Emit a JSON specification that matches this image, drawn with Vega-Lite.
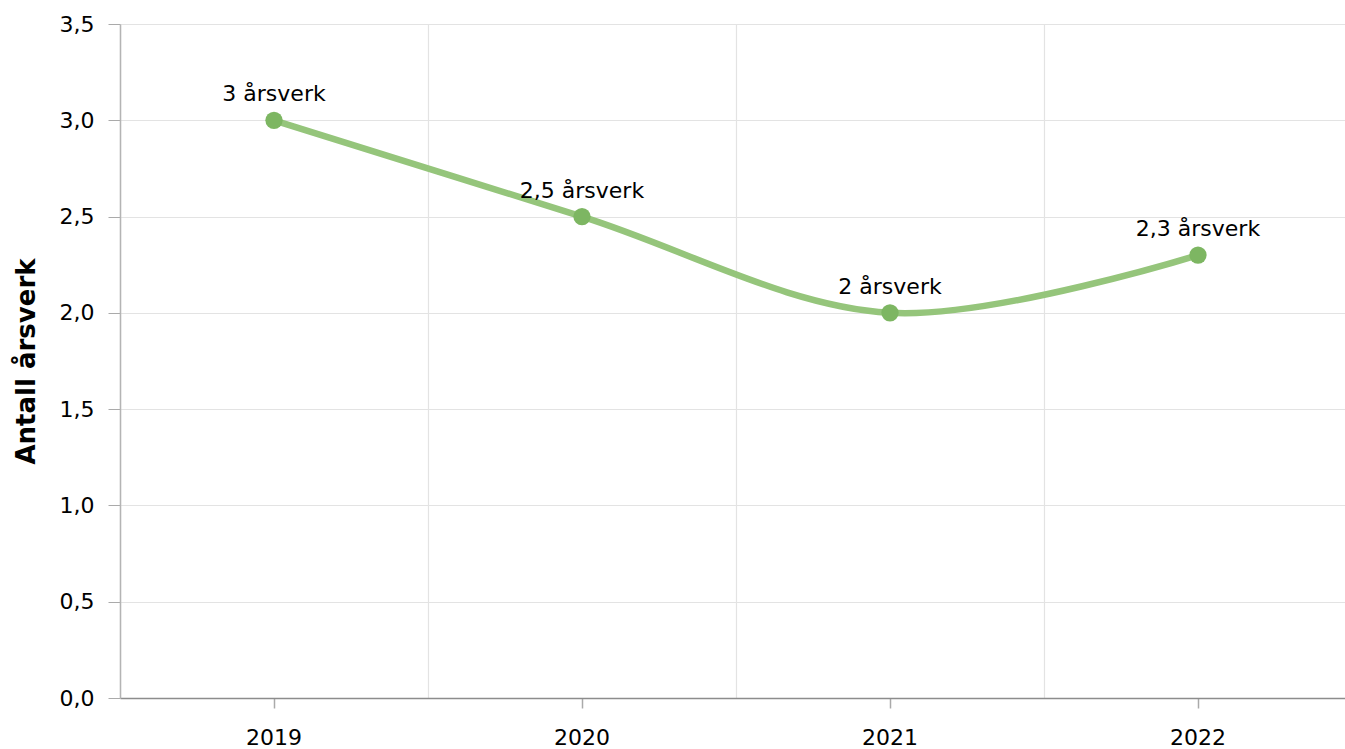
{
  "$schema": "https://vega.github.io/schema/vega-lite/v6.json",
  "autosize": "none",
  "padding": {"left": 120, "top": 24, "right": 0, "bottom": 51},
  "width": 1232,
  "height": 674,
  "background": "white",
  "config": {
    "view": {"stroke": null},
    "font": "DejaVu Sans",
    "axis": {"labelFont": "DejaVu Sans", "titleFont": "DejaVu Sans", "labelColor": "#000000", "titleColor": "#000000"}
  },
  "data": {
    "values": [
      {"year": "2019", "value": 3.0, "label": "3 årsverk"},
      {"year": "2020", "value": 2.5, "label": "2,5 årsverk"},
      {"year": "2021", "value": 2.0, "label": "2 årsverk"},
      {"year": "2022", "value": 2.3, "label": "2,3 årsverk"}
    ]
  },
  "resolve": {"axis": {"x": "independent"}},
  "layer": [
    {
      "mark": {"type": "line", "interpolate": "catmull-rom", "color": "#95c57b", "strokeWidth": 6.5},
      "encoding": {
        "x": {
          "field": "year", "type": "ordinal",
          "scale": {"type": "band", "paddingInner": 0, "paddingOuter": 0},
          "axis": {
            "title": null, "grid": false, "labelAngle": 0, "labelFontSize": 22,
            "labelPadding": 19, "tickSize": 10, "tickColor": "#aaaaaa", "tickWidth": 1.5,
            "domainColor": "#8c8c8c", "domainWidth": 1.5, "bandPosition": 0.5
          }
        },
        "y": {
          "field": "value", "type": "quantitative",
          "scale": {"domain": [0, 3.5], "nice": false},
          "axis": {
            "title": "Antall årsverk", "titleFontSize": 26, "titleFontWeight": "bold",
            "titlePadding": 20,
            "values": [0, 0.5, 1, 1.5, 2, 2.5, 3, 3.5],
            "format": ".1f", "labelExpr": "replace(datum.label, '.', ',')",
            "labelFontSize": 22, "labelPadding": 14, "tickSize": 12,
            "tickColor": "#aaaaaa", "domainColor": "#b4b4b4", "domainWidth": 1.5,
            "gridColor": "#e3e3e3", "gridWidth": 1.2
          }
        }
      }
    },
    {
      "mark": {"type": "circle", "color": "#7db662", "opacity": 1, "size": 300},
      "encoding": {
        "x": {
          "field": "year", "type": "ordinal",
          "axis": {
            "title": null, "grid": true, "gridColor": "#e3e3e3", "gridWidth": 1.2,
            "labels": false, "ticks": false, "domain": false, "bandPosition": 0
          }
        },
        "y": {"field": "value", "type": "quantitative"}
      }
    },
    {
      "mark": {"type": "text", "fontSize": 22, "font": "DejaVu Sans", "color": "#000000", "baseline": "alphabetic", "dy": -19},
      "encoding": {
        "x": {"field": "year", "type": "ordinal", "axis": null},
        "y": {"field": "value", "type": "quantitative"},
        "text": {"field": "label"}
      }
    }
  ]
}
